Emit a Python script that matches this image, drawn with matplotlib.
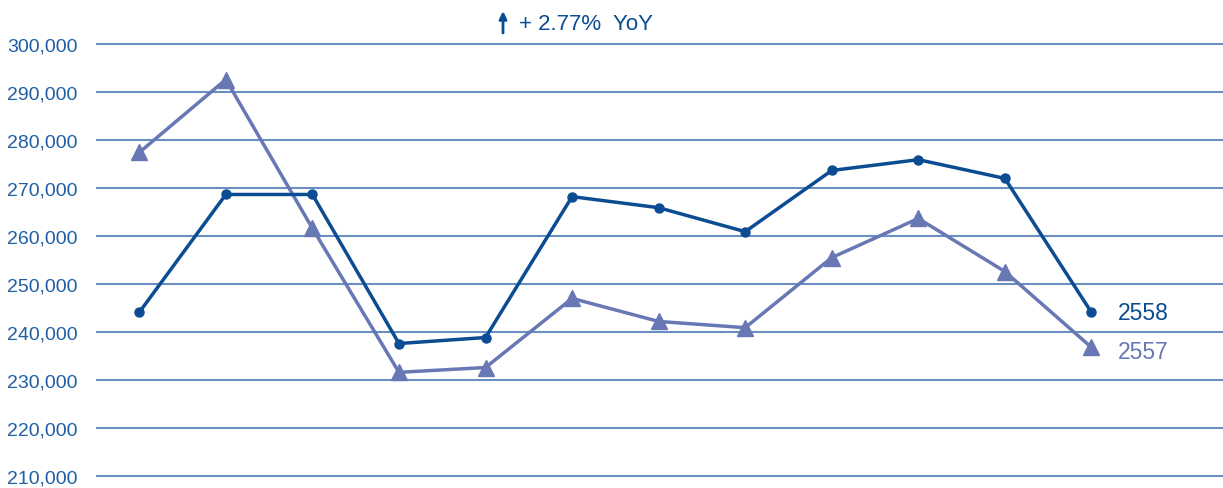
import matplotlib.pyplot as plt
import numpy as np

months = np.arange(12)
sales_2558 = [244200, 268750, 268750, 237700, 238950, 268300,
              266000, 261000, 273750, 276000, 272100, 244200]
sales_2557 = [277500, 292700, 261700, 231700, 232700, 247100,
              242300, 241000, 255600, 263750, 252700, 236900]
yticks = np.arange(210000, 300001, 10000)
yoy_text = '+ 2.77%  YoY'

dark = '#0B4C92'
light = '#6878B4'
grid_c = '#6A90C2'
text_c = '#1F5FA2'

plt.rcParams['font.family'] = ['Liberation Sans', 'DejaVu Sans']

fig = plt.figure(figsize=(12.23, 4.89), dpi=100)
ax = fig.add_axes([96 / 1223, 0, 1 - 96 / 1223, 1])

for y in yticks:
    ax.axhline(y, color=grid_c, lw=1.5, zorder=1)

ax.plot(months, sales_2557, color=light, lw=2.5, marker='^', ms=11, zorder=3)
ax.plot(months, sales_2558, color=dark, lw=2.5, marker='o', ms=6.5, zorder=4)

ax.annotate('2558', (months[-1], sales_2558[-1]), xytext=(19, 0), textcoords='offset points',
            va='center', ha='left', fontsize=16.5, color=dark)
ax.annotate('2557', (months[-1], sales_2557[-1]), xytext=(19, -3), textcoords='offset points',
            va='center', ha='left', fontsize=16.5, color=light)

ax.set_xlim(-0.5, 12.52)
ax.set_ylim(207600, 309475)
ax.set_xticks([])
ax.set_yticks(yticks)
ax.set_yticklabels([f'{v:,}' for v in yticks])
ax.tick_params(axis='y', length=0, pad=13.5, labelsize=14, labelcolor=text_c)
for s in ax.spines.values():
    s.set_visible(False)

# small up arrow before the YoY note
ax.annotate('', xy=(503, 477), xytext=(503, 455), xycoords='figure pixels',
            textcoords='figure pixels',
            arrowprops=dict(arrowstyle='-|>,head_length=0.45,head_width=0.22',
                            color=dark, lw=2, shrinkA=0, shrinkB=0))
fig.text(519 / 1223, 465 / 489, yoy_text, ha='left', va='center', fontsize=16,
         color=dark)

fig.savefig('out.png', dpi=100)
